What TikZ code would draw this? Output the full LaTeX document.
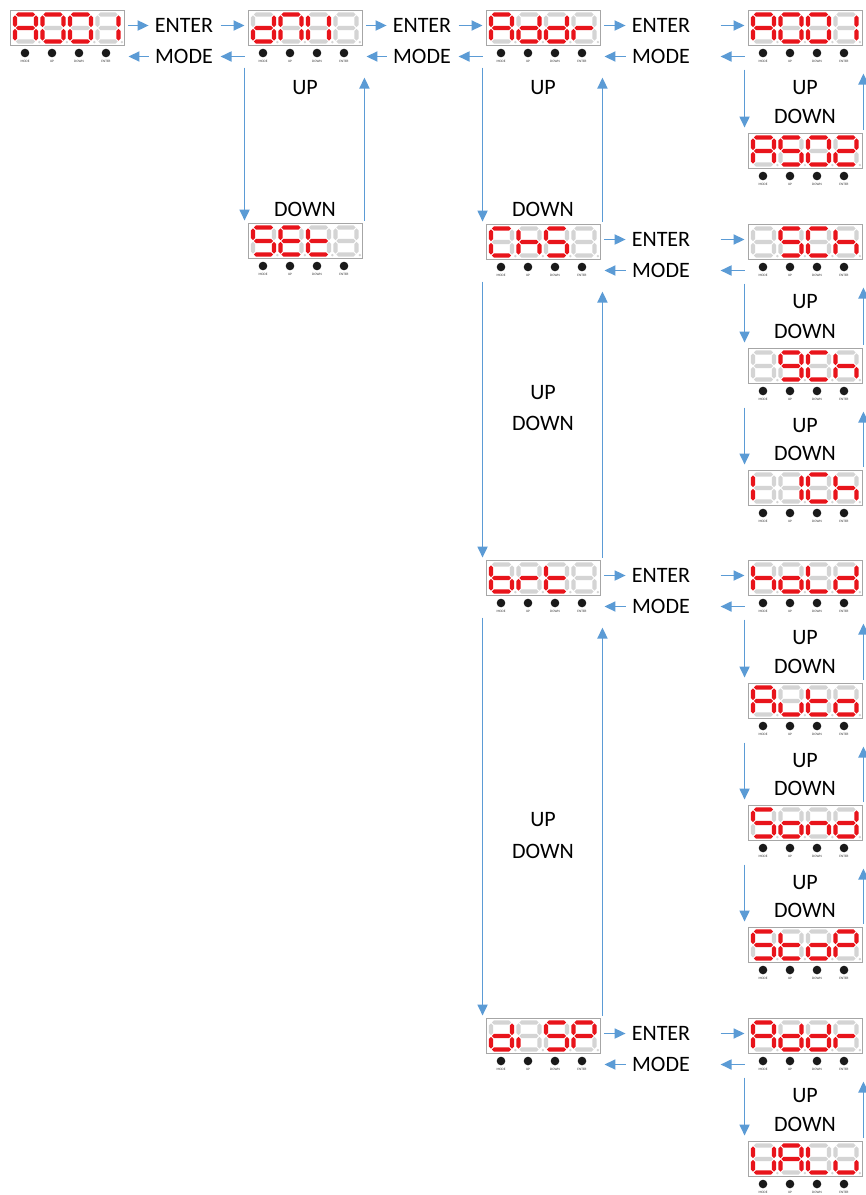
\documentclass[tikz,border=0pt]{standalone}
\usepackage{fontspec}
\setmainfont{Carlito}
\usetikzlibrary{arrows.meta,calc}
\definecolor{segon}{HTML}{E8141B}
\definecolor{segoff}{HTML}{D4D4D4}
\definecolor{arrblue}{HTML}{5B9BD5}
\definecolor{framegray}{HTML}{A6A6A6}
\definecolor{btn}{HTML}{1A1A1A}
\tikzset{
  dframe/.style={draw=framegray, line width=0.9pt, minimum width=114pt, minimum height=35pt, inner sep=0pt, rectangle},
  arr/.style={draw=arrblue, line width=1.8pt, -{Triangle[length=11pt,width=10pt]}},
  lbl/.style={font=\fontsize{22}{24}\selectfont, inner sep=0pt},
  btnlbl/.style={font=\fontsize{3.4}{4}\selectfont, inner sep=0pt, text=black!80},
}
\def\sgap{0.8}
\def\sth{2.1}
\makeatletter
\newcommand\digitseg[3]{%
  \foreach \s/\o/\p/\qa/\qb in {a/h/0/0/21,b/v/21/0/13.5,c/v/21/13.5/27,d/h/27/0/21,e/v/0/13.5/27,f/v/0/0/13.5,g/h/13.5/0/21}{%
    \edef\tmp{\noexpand\in@{\s}{#3}}\tmp
    \ifin@\def\segcol{segon}\else\def\segcol{segoff}\fi
    \if\o h%
      \fill[\segcol] ({#1+\qa+\sgap},{#2+\p}) -- ({#1+\qa+\sgap+\sth},{#2+\p-\sth})
        -- ({#1+\qb-\sgap-\sth},{#2+\p-\sth}) -- ({#1+\qb-\sgap},{#2+\p})
        -- ({#1+\qb-\sgap-\sth},{#2+\p+\sth}) -- ({#1+\qa+\sgap+\sth},{#2+\p+\sth}) -- cycle;
    \else
      \fill[\segcol] ({#1+\p},{#2+\qa+\sgap}) -- ({#1+\p+\sth},{#2+\qa+\sgap+\sth})
        -- ({#1+\p+\sth},{#2+\qb-\sgap-\sth}) -- ({#1+\p},{#2+\qb-\sgap})
        -- ({#1+\p-\sth},{#2+\qb-\sgap-\sth}) -- ({#1+\p-\sth},{#2+\qa+\sgap+\sth}) -- cycle;
    \fi
  }%
  \fill[segoff] ({#1+24.4},{#2+27.6}) circle (1.3pt);
}
\makeatother
\newcommand\disp[7]{%
  \node[dframe] (#1) at ({#2+57},{#3+17.5}) {};
  \foreach \k/\sg in {0/#4,1/#5,2/#6,3/#7}{\digitseg{#2+5+27.5*\k}{#3+4.5}{\sg}}
  \foreach \bx/\bt in {15/MODE,42/UP,69/DOWN,96/ENTER}{%
    \fill[btn] ({#2+\bx},{#3+43}) circle (4.3pt);
    \node[btnlbl] (#1-\bt) at ({#2+\bx},{#3+51.5}) {\bt};
  }
}
\newcommand\entermode[5]{%
  \node[lbl] (E#5) at (#3,{#4+15.5}) {ENTER};
  \node[lbl] (M#5) at (#3,{#4+46.5}) {MODE};
  \draw[arr] ($(#1.east |- E#5)+(4,0)$) -- ([xshift=-6pt]E#5.west);
  \draw[arr] ($(#2.west |- E#5)+(-27,0)$) -- ($(#2.west |- E#5)+(-3,0)$);
  \draw[arr] ([xshift=-6pt]M#5.west) -- ($(#1.east |- M#5)+(4,0)$);
  \draw[arr] ($(#2.west |- M#5)+(-3,0)$) -- ($(#2.west |- M#5)+(-27,0)$);
}
% right-column up/down pair
\newcommand\rpair[5]{%
  \draw[arr] ([shift={(-3,60)}]#1.north west) -- ([shift={(-3,-5)}]#2.north west);
  \draw[arr] ([shift={(1,-3)}]#2.north east) -- ([shift={(1,64)}]#1.north east);
  \node[lbl] (U#5) at (805,{#3+78}) {UP};
  \node[lbl] (W#5) at (805,{#4-17}) {DOWN};
}
% main-column up/down pair
\newcommand\mpair[2]{%
  \draw[arr] ([shift={(-3,58)}]#1.north west) -- ([shift={(-3,-2)}]#2.north west);
  \draw[arr] ([shift={(2,-2)}]#2.north east) -- ([shift={(2,68)}]#1.north east);
}
\begin{document}
\begin{tikzpicture}[x=1pt,y=-1pt]
\useasboundingbox (0,0) rectangle (866,1195);
\fill[white] (0,0) rectangle (866,1195);
% displays
\disp{D1}{10}{10}{abcefg}{abcdef}{abcdef}{bc}
\disp{D2}{248}{10}{bcdeg}{abcef}{bcef}{}
\disp{D3}{486}{10}{abcefg}{bcdeg}{bcdeg}{eg}
\disp{D4}{748}{10}{abcefg}{abcdef}{abcdef}{bc}
\disp{D5}{748}{133}{abcefg}{acdfg}{abcdef}{abdeg}
\disp{D6}{248}{223}{acdfg}{adefg}{defg}{}
\disp{D7}{486}{224}{adef}{cefg}{acdfg}{}
\disp{D8}{748}{224}{}{acdfg}{adef}{cefg}
\disp{D9}{748}{348}{}{abcdfg}{adef}{cefg}
\disp{D10}{748}{470}{ef}{bc}{adef}{cefg}
\disp{D11}{486}{560}{cdefg}{eg}{defg}{}
\disp{D12}{748}{560}{cefg}{cdeg}{def}{bcdeg}
\disp{D13}{748}{683}{abcefg}{cde}{defg}{cdeg}
\disp{D14}{748}{805}{acdfg}{cdeg}{ceg}{bcdeg}
\disp{D15}{748}{927}{acdfg}{defg}{cdeg}{abefg}
\disp{D16}{486}{1018}{bcdeg}{e}{acdfg}{abefg}
\disp{D17}{748}{1018}{abcefg}{bcdeg}{bcdeg}{eg}
\disp{D18}{748}{1141}{bcdef}{abcefg}{def}{cde}
% ENTER / MODE transitions
\entermode{D1}{D2}{184}{10}{a}
\entermode{D2}{D3}{422}{10}{b}
\entermode{D3}{D4}{661}{10}{c}
\entermode{D7}{D8}{661}{224}{d}
\entermode{D11}{D12}{661}{560}{e}
\entermode{D16}{D17}{661}{1018}{f}
% main columns
\mpair{D2}{D6}
\node[lbl] (U1) at (305,88) {UP};
\node[lbl] (W1) at (305,209) {DOWN};
\mpair{D3}{D7}
\node[lbl] (U2) at (543,88) {UP};
\node[lbl] (W2) at (543,209) {DOWN};
\mpair{D7}{D11}
\node[lbl] (U3) at (543,393) {UP};
\node[lbl] (W3) at (543,423) {DOWN};
\mpair{D11}{D16}
\node[lbl] (U4) at (543,820) {UP};
\node[lbl] (W4) at (543,851) {DOWN};
% right column
\rpair{D4}{D5}{10}{133}{r1}
\rpair{D8}{D9}{224}{348}{r2}
\rpair{D9}{D10}{348}{470}{r3}
\rpair{D12}{D13}{560}{683}{r4}
\rpair{D13}{D14}{683}{805}{r5}
\rpair{D14}{D15}{805}{927}{r6}
\rpair{D17}{D18}{1018}{1141}{r7}
\end{tikzpicture}
\end{document}
